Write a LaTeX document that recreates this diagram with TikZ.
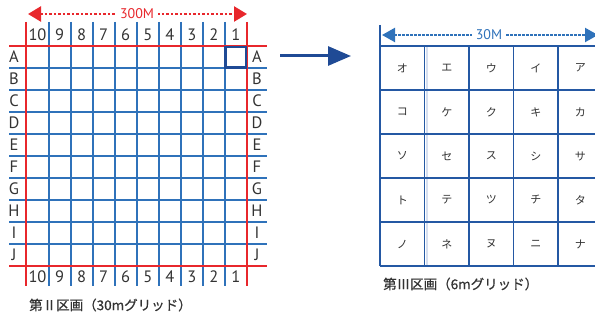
\documentclass[tikz,border=0pt]{standalone}
\usepackage{fontspec}
\setmainfont{PT Sans}
\newfontfamily\jp{Noto Sans CJK JP}
\newfontfamily\jpm[FakeBold=0.6]{Noto Sans CJK JP}
\usetikzlibrary{arrows.meta}
\definecolor{gred}{HTML}{E8272C}
\definecolor{gblue}{HTML}{2F72BA}
\definecolor{gdark}{HTML}{1F4A95}
\definecolor{rblue}{HTML}{2458A3}
\definecolor{lblue}{HTML}{D6DFEF}
\definecolor{txt}{HTML}{333333}
\begin{document}
\begin{tikzpicture}[x=1pt,y=-1pt,
  blueline/.style={gblue,line width=2pt},
  redline/.style={gred,line width=2.3pt},
  hilite/.style={gdark,line width=2.4pt},
  rgrid/.style={rblue,line width=1.4pt},
  numlab/.style={text=txt,font=\fontsize{16.5}{16.5}\selectfont,inner sep=0pt},
  kana/.style={text=txt,font=\jp\fontsize{11}{11}\selectfont,inner sep=0pt},
  caption/.style={text=txt,font=\jpm\fontsize{13.5}{13.5}\selectfont,inner sep=0pt,anchor=west},
  redarrow/.style={gred,line width=2.5pt,dash pattern=on 2.5pt off 2pt,
     {Triangle[length=13pt,width=15pt]}-{Triangle[length=13pt,width=15pt]}},
  bluearrow/.style={gblue,line width=2.2pt,dash pattern=on 2.2pt off 1.8pt,
     {Triangle[length=13pt,width=14pt]}-{Triangle[length=13pt,width=14pt]}},
  midarrow/.style={gdark,line width=3pt,-{Triangle[length=23pt,width=19pt]}},
  dimlab/.style={fill=white,inner xsep=4pt,inner ysep=1pt,font=\fontsize{14}{14}\selectfont}
]
\useasboundingbox (0,0) rectangle (595,320);
\clip (0,0) rectangle (595,320);
\fill[white] (0,0) rectangle (595,320);

% ---- left grid (30m) ----
\foreach \x in {49,71,93,115,137,159,181,203,225} \draw[blueline] (\x,22) -- (\x,286);
\foreach \y in {68,90,112,134,156,178,200,222,244} \draw[blueline] (9,\y) -- (267,\y);
\draw[redline] (26,22) -- (26,286);
\draw[redline] (247,22) -- (247,286);
\draw[redline] (9,46) -- (267,46);
\draw[redline] (9,266) -- (267,266);
\draw[hilite] (225.3,47.2) rectangle (246,67.5);

\foreach \n [count=\i from 0] in {10,9,8,7,6,5,4,3,2,1} {
  \node[numlab] (t\n) at ({37.5+22.05*\i},35) {\n};
  \node[numlab] (b\n) at ({37.5+22.05*\i},277) {\n};
}
\foreach \L [count=\j from 0] in {A,B,C,D,E,F,G,H,I,J} {
  \node[numlab] (l\L) at (14,{57+22*\j}) {\L};
  \node[numlab] (r\L) at (257,{57+22*\j}) {\L};
}

\coordinate (ra) at (28,14);
\coordinate (rb) at (247,14);
\draw[redarrow] (ra) -- (rb);
\node[dimlab,text=gred] (d300) at (137,14) {300M};

\node[caption] (cap2) at (29,305) {第Ⅱ区画（30mグリッド）};

% ---- middle arrow ----
\coordinate (ma) at (280,56);
\coordinate (mb) at (351,56);
\draw[midarrow] (ma) -- (mb);

% ---- right grid (6m) ----
\draw[lblue,line width=1.5pt] (427,46) -- (427,266);
\draw[rgrid] (380,25) -- (380,266);
\foreach \i in {1,...,5} \draw[rgrid] ({380+44.5*\i},46) -- ({380+44.5*\i},266);
\foreach \j in {0,...,5} \draw[rgrid] (380,{46+44*\j}) -- (600,{46+44*\j});

\foreach \row [count=\j from 0] in {{オ,エ,ウ,イ,ア},{コ,ケ,ク,キ,カ},{ソ,セ,ス,シ,サ},{ト,テ,ツ,チ,タ},{ノ,ネ,ヌ,ニ,ナ}} {
  \foreach \k [count=\i from 0] in \row {
    \node[kana] (k\j\i) at ({402.25+44.5*\i},{68+44*\j}) {\k};
  }
}

\coordinate (ba) at (382,35);
\coordinate (bb) at (598,35);
\draw[bluearrow] (ba) -- (bb);
\node[dimlab,text=gblue] (d30) at (489,35) {30M};

\node[caption] (cap3) at (383,284) {第Ⅲ区画（6mグリッド）};
\end{tikzpicture}
\end{document}
